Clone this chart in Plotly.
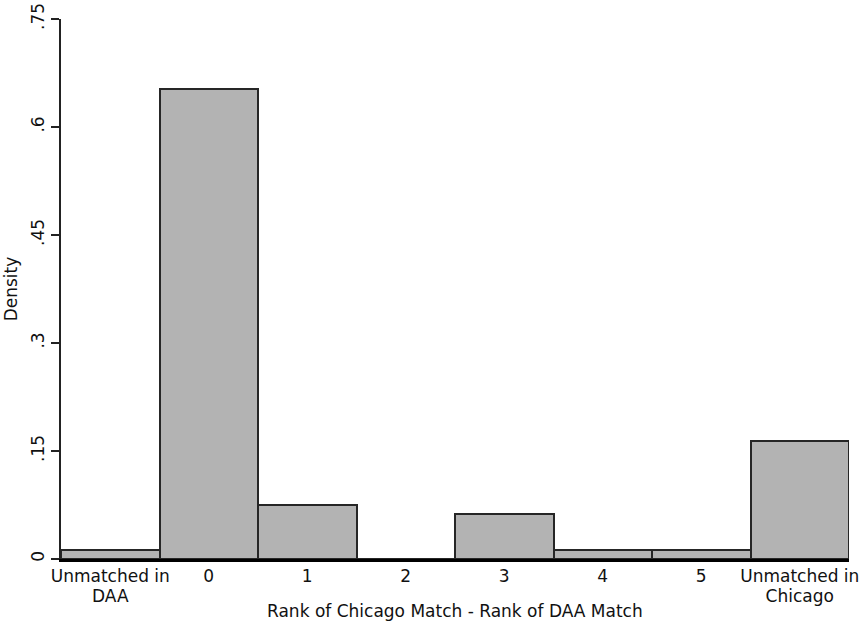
import plotly.graph_objects as go

# Histogram of rank differences between the Chicago and DAA assignments
categories = ["Unmatched in\nDAA", "0", "1", "2", "3", "4", "5", "Unmatched in\nChicago"]
density = [0.0125, 0.653, 0.0755, 0.0, 0.0625, 0.0125, 0.0125, 0.164]

y_ticks = [0, 0.15, 0.3, 0.45, 0.6, 0.75]
y_tick_text = ["0", ".15", ".3", ".45", ".6", ".75"]

x_title = "Rank of Chicago Match - Rank of DAA Match"
y_title = "Density"

positions = list(range(len(categories)))
# two-line category names are drawn as two rows of tick labels for tighter line spacing
label_row1 = [c.split("\n")[0] for c in categories]
label_row2 = [c.split("\n")[1] if "\n" in c else "" for c in categories]

font_family = "DejaVu Sans"
text_color = "#111111"
font = dict(family=font_family, size=17, color=text_color)

fig = go.Figure()
fig.add_trace(
    go.Bar(
        x=positions,
        y=density,
        width=1,
        marker=dict(color="#b3b3b3", line=dict(color="#262626", width=2)),
        hoverinfo="skip",
    )
)
# invisible companion trace so the second label row's axis is laid out
fig.add_trace(
    go.Scatter(
        x=positions,
        y=density,
        xaxis="x2",
        mode="markers",
        marker=dict(opacity=0),
        hoverinfo="skip",
    )
)

fig.update_layout(
    width=863,
    height=621,
    margin=dict(l=61, r=14, t=19, b=62),
    paper_bgcolor="white",
    plot_bgcolor="white",
    showlegend=False,
    bargap=0,
    font=font,
)

x_range = [-0.5, len(categories) - 0.5]

fig.update_layout(
    xaxis=dict(
        automargin=False,
        range=x_range,
        tickmode="array",
        tickvals=positions,
        ticktext=label_row1,
        ticks="",
        showline=True,
        linecolor="black",
        linewidth=3,
        showgrid=False,
        zeroline=False,
        tickfont=font,
    ),
    xaxis2=dict(
        automargin=False,
        overlaying="x",
        anchor="y",
        side="bottom",
        range=x_range,
        tickmode="array",
        tickvals=positions,
        ticktext=label_row2,
        ticks="outside",
        ticklen=22,
        tickcolor="rgba(0,0,0,0)",
        showline=False,
        showgrid=False,
        zeroline=False,
        tickfont=font,
    ),
    yaxis=dict(
        automargin=False,
        range=[0, 0.75],
        tickmode="array",
        tickvals=y_ticks,
        ticktext=y_tick_text,
        tickangle=-90,
        ticks="outside",
        ticklen=8,
        tickwidth=2,
        tickcolor="#222222",
        showline=True,
        linecolor="#222222",
        linewidth=2,
        showgrid=False,
        zeroline=False,
        tickfont=font,
        title=dict(text=y_title, standoff=6, font=font),
    ),
)

# x-axis title placed just beneath the two label rows
fig.add_annotation(
    text=x_title,
    xref="paper",
    yref="paper",
    x=0.5,
    y=-52 / 540,
    xanchor="center",
    yanchor="middle",
    showarrow=False,
    font=font,
)

fig.write_html("out.html")
